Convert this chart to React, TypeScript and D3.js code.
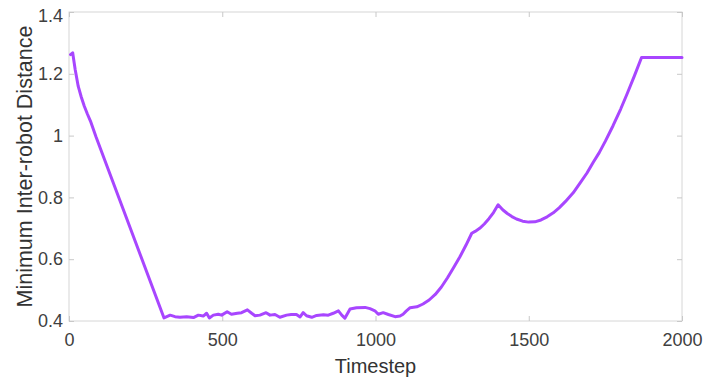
import React, { useEffect, useRef } from 'react';
import * as d3 from 'd3';

// values
const timesteps: number[] = [
    5, 12, 20, 30, 40, 50, 60, 70, 88, 310,
    330, 346, 362, 384, 406, 422, 438, 449, 458, 471,
    487, 498, 516, 530, 549, 563, 582, 596, 607, 623,
    643, 656, 672, 688, 710, 725, 742, 754, 764, 775,
    792, 808, 830, 846, 862, 879, 890, 900, 917, 938,
    966, 982, 998, 1009, 1025, 1042, 1064, 1080, 1090, 1100,
    1113, 1135, 1155, 1175, 1195, 1215, 1235, 1255, 1275, 1295,
    1314, 1325, 1340, 1355, 1370, 1385, 1400, 1415, 1430, 1445,
    1460, 1480, 1500, 1520, 1540, 1560, 1580, 1600, 1620, 1645,
    1670, 1690, 1710, 1730, 1750, 1775, 1800, 1820, 1845, 1868,
    2000,
];
const distances: number[] = [
    1.262, 1.268, 1.215, 1.16, 1.125, 1.095, 1.07, 1.047, 0.996, 0.41,
    0.419, 0.414, 0.412, 0.414, 0.411, 0.419, 0.416, 0.425, 0.41, 0.419,
    0.422, 0.419, 0.43, 0.422, 0.425, 0.427, 0.436, 0.425, 0.417, 0.419,
    0.427, 0.419, 0.421, 0.412, 0.419, 0.421, 0.421, 0.413, 0.427, 0.417,
    0.412, 0.418, 0.42, 0.419, 0.425, 0.433, 0.419, 0.409, 0.439, 0.443,
    0.444, 0.44, 0.433, 0.422, 0.427, 0.421, 0.414, 0.416, 0.422, 0.432,
    0.443, 0.446, 0.455, 0.468, 0.486, 0.51, 0.54, 0.573, 0.607, 0.645,
    0.684, 0.69, 0.7, 0.714, 0.731, 0.751, 0.776, 0.76, 0.748, 0.738,
    0.73, 0.723, 0.72, 0.721, 0.727, 0.737, 0.75, 0.767, 0.787, 0.815,
    0.85, 0.879, 0.913, 0.945, 0.982, 1.032, 1.086, 1.133, 1.194, 1.253,
    1.253,
];
const xTicks = [0, 500, 1000, 1500, 2000];
const yTicks = [0.4, 0.6, 0.8, 1, 1.2, 1.4];

const FONT = '"Liberation Sans", Arial, sans-serif';

export default function App() {
    const ref = useRef<SVGSVGElement>(null);

    useEffect(() => {
        const svg = d3.select(ref.current);
        svg.selectAll('*').remove();

        const left = 69, right = 682, top = 12, bottom = 321;
        const x = d3.scaleLinear().domain([0, 2000]).range([left, right]);
        const y = d3.scaleLinear().domain([0.4, 1.4]).range([bottom, top]);

        //box round the plot area
        svg.append('rect')
            .attr('x', left).attr('y', top)
            .attr('width', right - left).attr('height', bottom - top)
            .attr('fill', 'none').attr('stroke', '#d6d6d6').attr('stroke-width', 1);

        const styleAxis = (g: any) => {
            g.select('.domain').remove();
            g.selectAll('line').attr('stroke', '#c8c8c8');
            g.selectAll('text')
                .attr('fill', '#404040')
                .style('font-family', FONT)
                .style('font-size', '18px');
        };

        svg.append('g')
            .attr('transform', `translate(0, ${bottom})`)
            .call(d3.axisBottom(x).tickValues(xTicks).tickSizeInner(-5).tickSizeOuter(0).tickPadding(12).tickFormat(d3.format('d')))
            .call(styleAxis);
        svg.append('g')
            .attr('transform', `translate(0, ${top})`)
            .call(d3.axisTop(x).tickValues(xTicks).tickSizeInner(-5).tickSizeOuter(0).tickFormat(() => ''))
            .call(styleAxis);
        const yAxis = svg.append('g')
            .attr('transform', `translate(${left}, 0)`)
            .call(d3.axisLeft(y).tickValues(yTicks).tickSizeInner(-5).tickSizeOuter(0).tickPadding(6).tickFormat((d: any) => String(+(+d).toFixed(1))))
            .call(styleAxis);
        //top label sits a little lower in the reference
        yAxis.selectAll('.tick text')
            .filter((d: any) => d === 1.4)
            .attr('dy', '0.55em');
        svg.append('g')
            .attr('transform', `translate(${right}, 0)`)
            .call(d3.axisRight(y).tickValues(yTicks).tickSizeInner(-5).tickSizeOuter(0).tickFormat(() => ''))
            .call(styleAxis);

        //the distance line
        const points = timesteps.map((t, i) => [t, distances[i]] as [number, number]);
        const line = d3.line<[number, number]>()
            .x(d => x(d[0]))
            .y(d => y(d[1]));
        svg.append('path')
            .datum(points)
            .attr('d', line)
            .attr('fill', 'none')
            .attr('stroke', '#a846ff')
            .attr('stroke-width', 3)
            .attr('stroke-linejoin', 'round')
            .attr('stroke-linecap', 'round');

        //axis titles
        svg.append('text')
            .attr('x', (left + right) / 2)
            .attr('y', 373)
            .attr('text-anchor', 'middle')
            .attr('fill', '#333333')
            .style('font-family', FONT)
            .style('font-size', '20px')
            .text('Timestep');
        svg.append('text')
            .attr('transform', `translate(32, ${(top + bottom) / 2}) rotate(-90)`)
            .attr('text-anchor', 'middle')
            .attr('fill', '#333333')
            .style('font-family', FONT)
            .style('font-size', '21.5px')
            .text('Minimum Inter-robot Distance');
    }, []);

    return (
        <svg ref={ref} width={705} height={382}
            style={{ position: 'absolute', left: 0, top: 0, background: '#ffffff' }} />
    );
}
